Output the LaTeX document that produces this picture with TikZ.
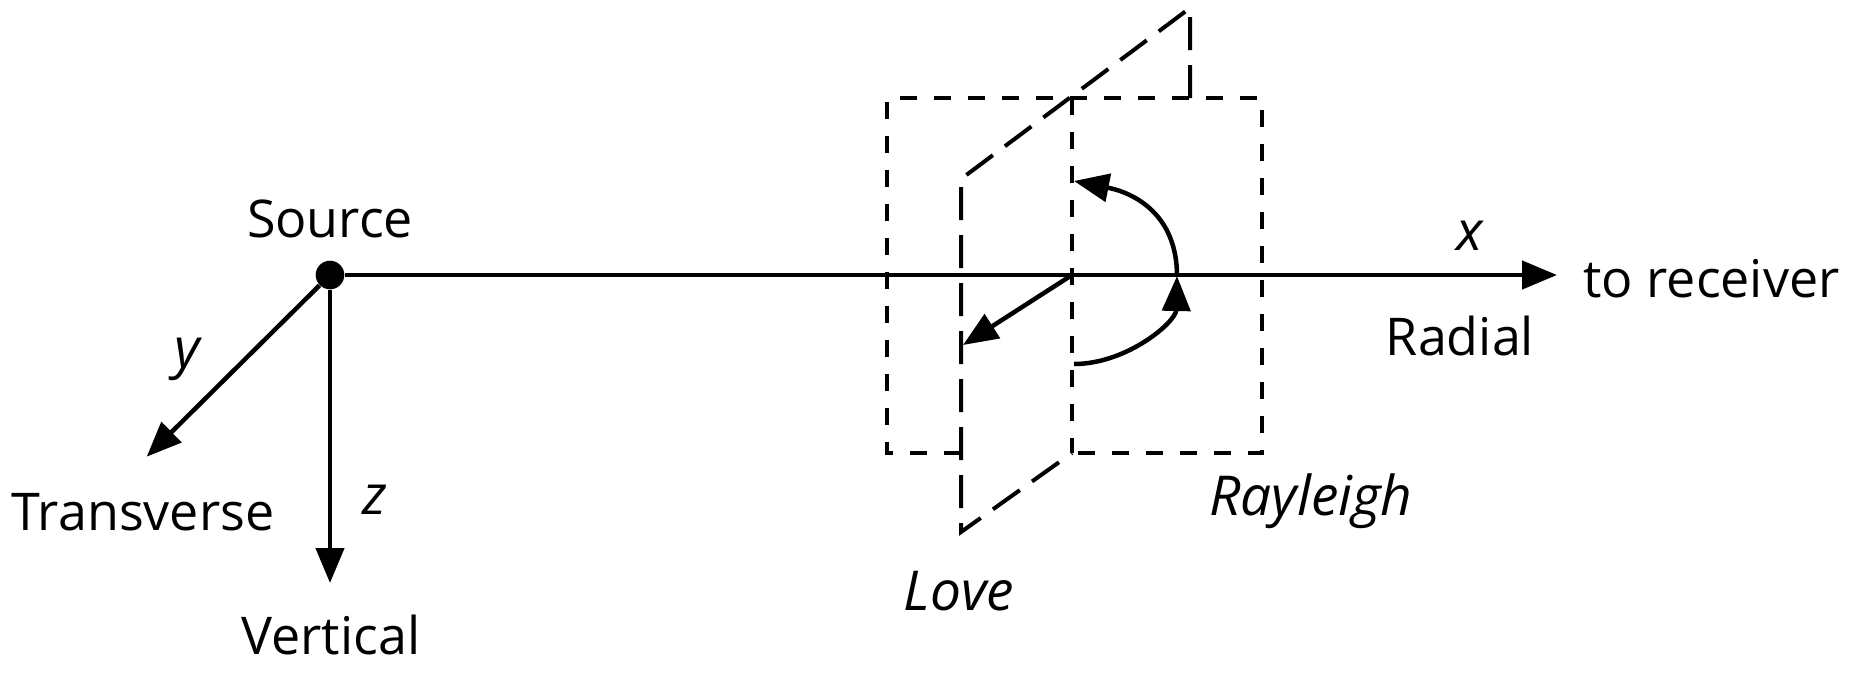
\documentclass[tikz,border=0pt]{standalone}
\usepackage{fontspec}
\setmainfont{Open Sans}
\usetikzlibrary{arrows.meta}
\begin{document}
\begin{tikzpicture}[x=0.5pt,y=-0.5pt,
  arr/.style={line width=2.25pt,-{Triangle[length=17.5pt,width=14pt]}},
  rdash/.style={line width=2pt,dash pattern=on 8.5pt off 8.5pt},
  ldash/.style={line width=2pt,dash pattern=on 16.5pt off 7.5pt},
  lbl/.style={inner sep=0pt,anchor=base,font=\fontsize{26pt}{30pt}\selectfont},
  ilbl/.style={lbl,font=\fontsize{27.5pt}{32pt}\selectfont\itshape},
  dot/.style={circle,fill=black,inner sep=0pt,minimum size=14.3pt}]
\useasboundingbox (0,0) rectangle (1859,676);

% Rayleigh plane (x-z plane)
\coordinate (rTL) at (887,98);
\coordinate (rTR) at (1262,98);
\coordinate (rBL) at (887,453);
\coordinate (rBR) at (1262,453);
\coordinate (rBfront) at (961,453);
\coordinate (cTop) at (1072,98);
\coordinate (cBot) at (1072,453);
\draw[rdash] (rBfront) -- (rBL) -- (rTL) -- (rTR) -- (rBR) -- (cBot);
\draw[rdash] (cTop) -- (cBot);

% Love plane (y-z plane)
\coordinate (lBackMid) at (1190,98);
\coordinate (lBackTop) at (1190,8);
\coordinate (lFrontTop) at (961,179);
\coordinate (lFrontBot) at (961,532);
\draw[ldash] (lBackMid) -- (lBackTop) -- (lFrontTop) -- (lFrontBot) -- (cBot);

% Source and axes
\node[dot] (src) at (330,275) {};
\coordinate (xend) at (1557,275);
\coordinate (yend) at (146.7,456.7);
\coordinate (zend) at (330,583);
\draw[arr] (src) -- (xend);
\draw[arr] (src) -- (yend);
\draw[arr] (src) -- (zend);

% particle motions
\coordinate (O) at (1072,275);
\coordinate (lv) at (963,345);
\draw[arr] (O) -- (lv);
\coordinate (rb) at (1074,364);
\coordinate (ra) at (1177,276);
\coordinate (rt) at (1074,181);
\draw[arr] (rb) .. controls (1127,364) and (1176,322) .. (ra);
\draw[arr] (ra) .. controls (1177,215) and (1135,193) .. (rt);

% labels
\node[lbl] (tsource) at (330,237) {Source};
\node[lbl,anchor=base west] (trec) at (1583,297) {to receiver};
\node[ilbl] (tx) at (1470,250) {x};
\node[lbl] (trad) at (1460,355) {Radial};
\node[ilbl] (ty) at (187,367) {y};
\node[lbl] (ttrans) at (143,530) {Transverse};
\node[ilbl] (tz) at (375,514) {z};
\node[lbl] (tvert) at (331,654) {Vertical};
\node[ilbl] (tlove) at (959,610) {Love};
\node[ilbl] (tray) at (1311,515) {Rayleigh};
\end{tikzpicture}
\end{document}
